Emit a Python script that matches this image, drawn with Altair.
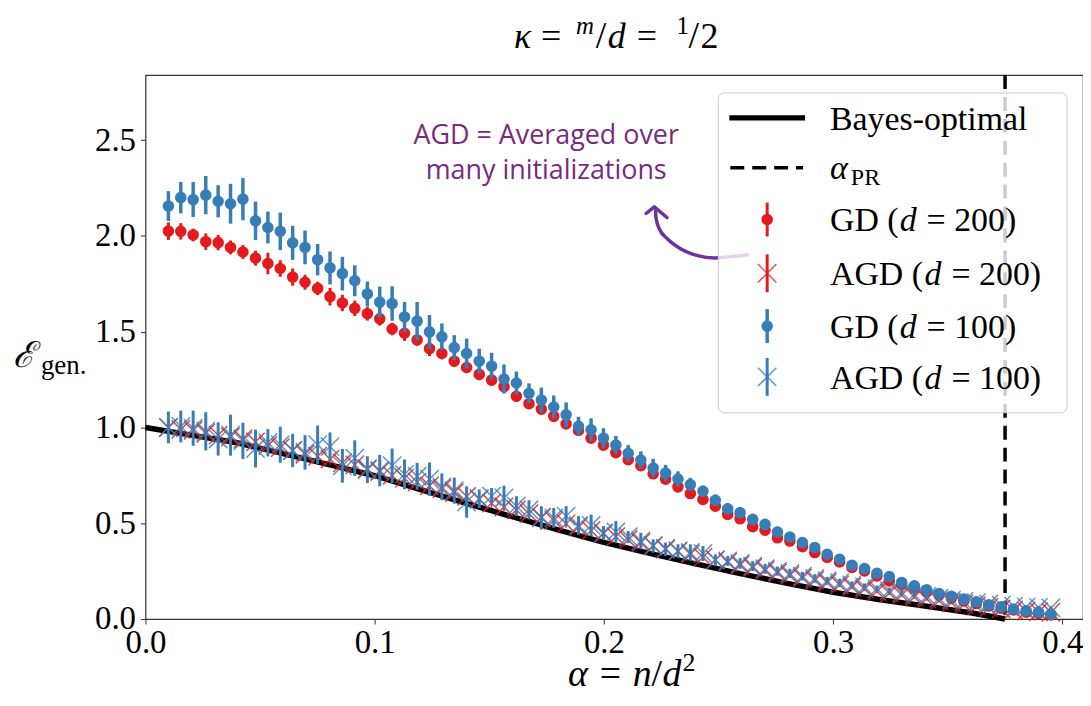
import altair as alt
import pandas as pd

# ---------------- data ----------------
alpha = [0.0100, 0.0154, 0.0208, 0.0263, 0.0317, 0.0371, 0.0425, 0.0480, 0.0534, 0.0588,
         0.0642, 0.0696, 0.0751, 0.0805, 0.0859, 0.0913, 0.0968, 0.1022, 0.1076, 0.1130,
         0.1185, 0.1239, 0.1293, 0.1347, 0.1401, 0.1456, 0.1510, 0.1564, 0.1618, 0.1673,
         0.1727, 0.1781, 0.1835, 0.1889, 0.1944, 0.1998, 0.2052, 0.2106, 0.2161, 0.2215,
         0.2269, 0.2323, 0.2377, 0.2432, 0.2486, 0.2540, 0.2594, 0.2649, 0.2703, 0.2757,
         0.2811, 0.2866, 0.2920, 0.2974, 0.3028, 0.3082, 0.3137, 0.3191, 0.3245, 0.3299,
         0.3354, 0.3408, 0.3462, 0.3516, 0.3570, 0.3625, 0.3679, 0.3733, 0.3787, 0.3842,
         0.3896, 0.3950]

gd200 = [2.025, 2.024, 2.005, 1.970, 1.965, 1.940, 1.916, 1.884, 1.856, 1.830,
         1.785, 1.758, 1.726, 1.683, 1.650, 1.622, 1.594, 1.567, 1.514, 1.492,
         1.457, 1.412, 1.386, 1.346, 1.313, 1.277, 1.247, 1.213, 1.163, 1.124,
         1.095, 1.058, 1.018, 0.984, 0.944, 0.908, 0.868, 0.832, 0.800, 0.758,
         0.730, 0.690, 0.655, 0.624, 0.589, 0.546, 0.523, 0.482, 0.464, 0.424,
         0.407, 0.378, 0.347, 0.321, 0.298, 0.269, 0.251, 0.225, 0.199, 0.182,
         0.161, 0.143, 0.125, 0.109, 0.094, 0.081, 0.068, 0.057, 0.047, 0.036,
         0.029, 0.021]
gd200_err = [0.046, 0.043, 0.033, 0.043, 0.040, 0.036, 0.036, 0.039, 0.056, 0.043,
             0.045, 0.039, 0.035, 0.046, 0.043, 0.040, 0.036, 0.035, 0.033, 0.040,
             0.030, 0.040, 0.030, 0.030, 0.028, 0.030, 0.028, 0.025, 0.030, 0.025,
             0.025, 0.025, 0.022, 0.022, 0.020, 0.020, 0.020, 0.018, 0.018, 0.018,
             0.016, 0.016, 0.015, 0.015, 0.015, 0.014, 0.014, 0.013, 0.013, 0.012,
             0.012, 0.012, 0.011, 0.011, 0.010, 0.010, 0.010, 0.010, 0.009, 0.009,
             0.009, 0.008, 0.008, 0.008, 0.008, 0.007, 0.007, 0.007, 0.006, 0.006,
             0.006, 0.006]

gd100 = [2.156, 2.200, 2.190, 2.213, 2.181, 2.168, 2.192, 2.079, 2.044, 2.024,
         1.964, 1.940, 1.876, 1.833, 1.803, 1.766, 1.697, 1.654, 1.647, 1.577,
         1.555, 1.499, 1.473, 1.417, 1.386, 1.346, 1.320, 1.253, 1.232, 1.178,
         1.143, 1.107, 1.066, 1.006, 0.988, 0.944, 0.908, 0.865, 0.830, 0.788,
         0.762, 0.731, 0.702, 0.667, 0.620, 0.575, 0.555, 0.520, 0.494, 0.454,
         0.428, 0.399, 0.373, 0.338, 0.312, 0.281, 0.263, 0.239, 0.222, 0.191,
         0.173, 0.152, 0.133, 0.118, 0.104, 0.090, 0.074, 0.064, 0.052, 0.043,
         0.035, 0.026]
gd100_err = [0.078, 0.082, 0.091, 0.100, 0.084, 0.104, 0.110, 0.100, 0.083, 0.098,
             0.089, 0.088, 0.082, 0.086, 0.088, 0.081, 0.065, 0.082, 0.090, 0.078,
             0.100, 0.088, 0.070, 0.065, 0.078, 0.065, 0.070, 0.076, 0.060, 0.052,
             0.065, 0.060, 0.065, 0.050, 0.060, 0.052, 0.048, 0.043, 0.045, 0.048,
             0.043, 0.040, 0.035, 0.030, 0.030, 0.030, 0.030, 0.028, 0.026, 0.028,
             0.024, 0.022, 0.020, 0.020, 0.018, 0.018, 0.016, 0.015, 0.014, 0.013,
             0.012, 0.012, 0.011, 0.010, 0.010, 0.010, 0.009, 0.009, 0.008, 0.008,
             0.008, 0.008]

agd200 = [1.000, 0.990, 0.985, 0.970, 0.960, 0.950, 0.940, 0.925, 0.905, 0.895,
          0.880, 0.860, 0.850, 0.835, 0.815, 0.805, 0.785, 0.770, 0.750, 0.735,
          0.715, 0.695, 0.680, 0.660, 0.640, 0.625, 0.605, 0.585, 0.570, 0.550,
          0.532, 0.515, 0.497, 0.480, 0.462, 0.446, 0.430, 0.414, 0.398, 0.383,
          0.368, 0.353, 0.338, 0.323, 0.309, 0.296, 0.282, 0.268, 0.254, 0.241,
          0.228, 0.215, 0.202, 0.190, 0.178, 0.167, 0.156, 0.145, 0.135, 0.125,
          0.115, 0.105, 0.095, 0.086, 0.077, 0.068, 0.060, 0.053, 0.047, 0.042,
          0.038, 0.035]
agd200_err = [0.035, 0.035, 0.035, 0.035, 0.035, 0.033, 0.033, 0.033, 0.032, 0.032,
              0.031, 0.031, 0.030, 0.030, 0.030, 0.029, 0.029, 0.028, 0.028, 0.027,
              0.027, 0.026, 0.026, 0.025, 0.025, 0.024, 0.024, 0.023, 0.023, 0.022,
              0.022, 0.021, 0.021, 0.020, 0.020, 0.019, 0.019, 0.018, 0.018, 0.017,
              0.017, 0.016, 0.016, 0.015, 0.015, 0.014, 0.014, 0.013, 0.013, 0.012,
              0.012, 0.011, 0.011, 0.010, 0.010, 0.010, 0.009, 0.009, 0.009, 0.008,
              0.008, 0.008, 0.007, 0.007, 0.007, 0.006, 0.006, 0.006, 0.006, 0.005,
              0.005, 0.005]

agd100 = [1.000, 1.005, 0.996, 0.980, 0.940, 0.960, 0.930, 0.890, 0.920, 0.910,
          0.880, 0.870, 0.910, 0.900, 0.800, 0.840, 0.780, 0.775, 0.800, 0.755,
          0.745, 0.730, 0.690, 0.670, 0.611, 0.628, 0.641, 0.632, 0.589, 0.570,
          0.528, 0.528, 0.537, 0.489, 0.489, 0.450, 0.455, 0.429, 0.407, 0.381,
          0.364, 0.355, 0.347, 0.342, 0.308, 0.303, 0.290, 0.276, 0.262, 0.250,
          0.238, 0.224, 0.212, 0.200, 0.190, 0.178, 0.168, 0.158, 0.148, 0.138,
          0.128, 0.118, 0.108, 0.100, 0.092, 0.085, 0.078, 0.072, 0.067, 0.063,
          0.060, 0.058]
agd100_err = [0.083, 0.083, 0.092, 0.100, 0.087, 0.107, 0.095, 0.099, 0.071, 0.094,
              0.087, 0.090, 0.100, 0.074, 0.088, 0.093, 0.070, 0.082, 0.090, 0.078,
              0.070, 0.087, 0.070, 0.068, 0.082, 0.048, 0.043, 0.064, 0.052, 0.050,
              0.061, 0.052, 0.052, 0.048, 0.056, 0.035, 0.056, 0.030, 0.043, 0.035,
              0.035, 0.035, 0.043, 0.039, 0.030, 0.026, 0.028, 0.026, 0.026, 0.024,
              0.024, 0.022, 0.022, 0.020, 0.020, 0.018, 0.018, 0.016, 0.016, 0.015,
              0.014, 0.013, 0.012, 0.012, 0.011, 0.010, 0.010, 0.010, 0.009, 0.009,
              0.008, 0.008]

bo_alpha = [0.0, 0.02, 0.04, 0.06, 0.08, 0.10, 0.12, 0.14, 0.16, 0.18, 0.20, 0.22,
            0.24, 0.26, 0.28, 0.30, 0.32, 0.34, 0.36, 0.375]
bo_val = [1.000, 0.960, 0.920, 0.863, 0.806, 0.748, 0.675, 0.604, 0.534, 0.465,
          0.400, 0.343, 0.288, 0.236, 0.186, 0.140, 0.102, 0.068, 0.033, 0.000]

alpha_pr = [0.375]

x_ticks = [0.0, 0.1, 0.2, 0.3, 0.4]
y_ticks = [0.0, 0.5, 1.0, 1.5, 2.0, 2.5]

legend_plain = ["Bayes-optimal"]
legend_alpha = ["α", "PR"]
legend_gd = [("GD (", "d", "= 200)"), ("AGD (", "d", "= 200)"),
             ("GD (", "d", "= 100)"), ("AGD (", "d", "= 100)")]
note_lines = ["AGD = Averaged over", "many initializations"]
note_alpha = [0.1748, 0.1748]
note_val = [2.481, 2.296]

arrow_alpha = [0.2626, 0.2553, 0.2481, 0.2409, 0.2336, 0.2278, 0.2242, 0.2227, 0.2225]
arrow_val = [1.902, 1.892, 1.885, 1.897, 1.932, 1.984, 2.036, 2.096, 2.131]
head_alpha = [0.2184, 0.2220, 0.2275]
head_val = [2.117, 2.152, 2.096]

# ---------------- styling ----------------
RED = "#e41a1c"
BLUE = "#377eb8"
PURPLE_T = "#7a2a7c"
PURPLE_A = "#7030a0"
SERIF = "Liberation Serif"
XPATH = "M-1,-1L1,1M-1,1L1,-1"
DOT = 135
XSIZE = 340

xs = alt.Scale(domain=[0, 0.409], nice=False, zero=False)
ys = alt.Scale(domain=[0, 2.84], nice=False, zero=False)
common_axis = dict(title=None, grid=False, domain=False, tickSize=5, tickColor="#333333",
                   tickWidth=1, labelFont=SERIF, labelFontSize=33, labelColor="black",
                   format=".1f", labelFlush=False, labelOverlap=False)
xaxis = alt.Axis(values=x_ticks, labelPadding=3, **common_axis)
yaxis = alt.Axis(values=y_ticks, labelPadding=5, **common_axis)


def X(f):
    return alt.X(f, type="quantitative", scale=xs, axis=xaxis)


def Y(f):
    return alt.Y(f, type="quantitative", scale=ys, axis=yaxis)


def err_layer(vals, errs, color, width, opacity=1.0):
    df = pd.DataFrame({"a": alpha,
                       "lo": [v - e for v, e in zip(vals, errs)],
                       "hi": [v + e for v, e in zip(vals, errs)]})
    return alt.Chart(df).mark_rule(color=color, strokeWidth=width, opacity=opacity).encode(
        x=X("a"), y=Y("lo"), y2="hi")


def dot_layer(vals, color):
    df = pd.DataFrame({"a": alpha, "v": vals})
    return alt.Chart(df).mark_point(shape="circle", filled=True, size=DOT, color=color,
                                    opacity=1).encode(x=X("a"), y=Y("v"))


def x_layer(vals, color, width, opacity):
    df = pd.DataFrame({"a": alpha, "v": vals})
    return alt.Chart(df).mark_point(shape=XPATH, filled=False, size=XSIZE, color=color,
                                    strokeWidth=width, opacity=opacity).encode(
        x=X("a"), y=Y("v"))


one = pd.DataFrame({"k": [0]})


def txt(s, x, y, size, italic=False, font=SERIF, align="left"):
    kw = dict(font=font, fontSize=size, align=align, baseline="alphabetic", color="black")
    if italic:
        kw["fontStyle"] = "italic"
    return alt.Chart(pd.DataFrame({"t": [s]})).mark_text(**kw).encode(
        text="t:N", x=alt.value(x), y=alt.value(y))


# Bayes-optimal
bo = alt.Chart(pd.DataFrame({"a": bo_alpha, "v": bo_val})).mark_line(
    color="black", strokeWidth=5.5).encode(x=X("a"), y=Y("v"))

vline = alt.Chart(pd.DataFrame({"a": alpha_pr})).mark_rule(
    color="black", strokeWidth=3.5, strokeDash=[14, 8]).encode(x=X("a"))

layers = [
    bo, vline,
    err_layer(gd200, gd200_err, RED, 3), dot_layer(gd200, RED),
    err_layer(agd200, agd200_err, RED, 1.6, 0.9), x_layer(agd200, RED, 1.4, 0.85),
    err_layer(gd100, gd100_err, BLUE, 3.5), dot_layer(gd100, BLUE),
    err_layer(agd100, agd100_err, BLUE, 3), x_layer(agd100, BLUE, 1.5, 0.8),
]

# annotation
note = alt.Chart(pd.DataFrame({"a": note_alpha, "v": note_val, "t": note_lines})).mark_text(
    font="Open Sans", fontSize=27, color=PURPLE_T, align="center", baseline="alphabetic"
).encode(x=X("a"), y=Y("v"), text="t:N")
arrow = alt.Chart(pd.DataFrame({"a": arrow_alpha, "v": arrow_val,
                                "o": list(range(len(arrow_alpha)))})).mark_line(
    color=PURPLE_A, strokeWidth=3.5, strokeCap="round", interpolate="monotone").encode(
    x=X("a"), y=Y("v"), order="o:Q")
head = alt.Chart(pd.DataFrame({"a": head_alpha, "v": head_val, "o": [0, 1, 2]})).mark_line(
    color=PURPLE_A, strokeWidth=3.5, strokeCap="round", strokeJoin="round").encode(
    x=X("a"), y=Y("v"), order="o:Q")
layers += [note, arrow, head]

# legend (drawn by hand, positions in plot pixels)
box = alt.Chart(one).mark_rect(fill="white", fillOpacity=0.8, stroke="#cccccc",
                               strokeWidth=1, cornerRadius=6).encode(
    x=alt.value(575), x2=alt.value(925), y=alt.value(18), y2=alt.value(339))
layers.append(box)
rows = [43, 93, 145, 199, 252, 303]
SX = 624
layers.append(alt.Chart(one).mark_rule(color="black", strokeWidth=5.5).encode(
    x=alt.value(586), x2=alt.value(662), y=alt.value(rows[0])))
layers.append(alt.Chart(one).mark_rule(color="black", strokeWidth=3.5, strokeDash=[14, 8]).encode(
    x=alt.value(587), x2=alt.value(660), y=alt.value(rows[1])))
for r, c, w in [(rows[2], RED, 3), (rows[4], BLUE, 3.5)]:
    layers.append(alt.Chart(one).mark_rule(color=c, strokeWidth=w).encode(
        x=alt.value(SX), y=alt.value(r - 17), y2=alt.value(r + 17)))
    layers.append(alt.Chart(one).mark_point(shape="circle", filled=True, size=DOT, color=c,
                                            opacity=1).encode(x=alt.value(SX), y=alt.value(r)))
for r, c, w, xw in [(rows[3], RED, 3, 1.4), (rows[5], BLUE, 3, 1.5)]:
    layers.append(alt.Chart(one).mark_rule(color=c, strokeWidth=w).encode(
        x=alt.value(SX), y=alt.value(r - 19), y2=alt.value(r + 19)))
    layers.append(alt.Chart(one).mark_point(shape=XPATH, filled=False, size=XSIZE, color=c,
                                            strokeWidth=xw, opacity=0.8).encode(
        x=alt.value(SX), y=alt.value(r)))
LX = 687
LS = 34
layers.append(txt(legend_plain[0], LX, rows[0] + 12, LS))
layers.append(txt(legend_alpha[0], LX, rows[1] + 11, LS, italic=True))
layers.append(txt(legend_alpha[1], LX + 21, rows[1] + 17, 24))
prefix_w = {"GD (": 69, "AGD (": 94}
for (pre, d, suf), r in zip(legend_gd, rows[2:]):
    pw = prefix_w[pre]
    layers.append(txt(pre, LX, r + 12, LS))
    layers.append(txt(d, LX + pw + 1, r + 12, LS, italic=True))
    layers.append(txt(suf, LX + pw + 28, r + 12, LS))

# title: kappa = m/d = 1/2  (nice-fraction layout)
TB = -27
for s, x, y, size, it in [("κ", 370, TB, 36, True), ("=", 397, TB, 36, False),
                          ("m", 432, TB - 14, 25, True), ("/", 452, TB, 38, False),
                          ("d", 464, TB, 36, True), ("=", 493, TB, 36, False),
                          ("1", 533, TB - 14, 25, False), ("/", 545, TB, 38, False),
                          ("2", 557, TB, 36, False)]:
    layers.append(txt(s, x, y, size, italic=it))

# y label
layers.append(txt("ℰ", -133, 293, 36, italic=True, font="DejaVu Serif"))
layers.append(txt("gen.", -105, 300, 27))

# x label: alpha = n/d^2
XB = 613
for s, x, y, size, it in [("α", 424, XB, 38, True), ("=", 456, XB, 38, False),
                          ("n", 489, XB, 38, True), ("/", 508, XB, 38, False),
                          ("d", 519, XB, 38, True), ("2", 539, XB - 15, 26, False)]:
    layers.append(txt(s, x, y, size, italic=it))

chart = alt.layer(*layers).properties(
    width=941, height=546,
    autosize=alt.AutoSizeParams(type="none"),
    padding={"left": 138, "top": 66, "right": 0, "bottom": 76},
).configure_view(stroke="#333333", strokeWidth=1.2)

chart.save("out.html", embed_options={"renderer": "svg", "actions": False})
